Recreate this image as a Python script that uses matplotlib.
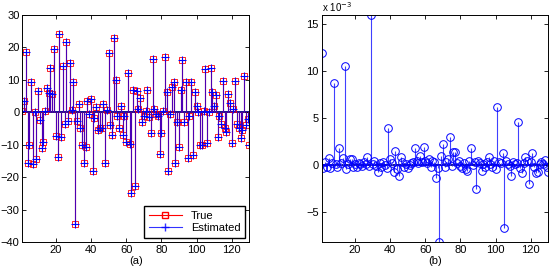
import numpy as np
import matplotlib.pyplot as plt
from matplotlib.lines import Line2D

plt.rcParams['font.family'] = ['Liberation Sans', 'DejaVu Sans']
plt.rcParams['font.size'] = 8

# (a) true signal values
true_vals = [
    0.3, 3.4, 18.6, -15.5, -10, 9.3, -16, 0, -14.5, 6.5,
    -2.5, -11, -9.2, 0.4, 7.5, 6, 13.8, 5.5, 19.5, -7.2,
    -13.7, 24, -7.5, 14.2, -3.5, 21.8, -2.8, 15.3, 0.6, 9.3,
    -34.4, -2.8, 2.7, -4.7, -10, -15.6, -10.8, 3.6, -0.5, 4,
    -18, -1.7, 1.5, -5.5, -4.9, -5, 2.4, -15.5, 0.6, 18.3,
    -3.9, -7, 23, 10, -1.3, -5, 2, -7, -1.2, -9.2,
    12.2, -9.8, -25, 7, -22.7, 6.5, 1, 4.5, -3, -1,
    0.5, 7, -1.5, -6.5, 16.4, 1, -0.5, -1, -13, -6.3,
    0.5, 17, 6.2, -18, -0.5, 7.8, 9.3, -15.6, -3, -10.6,
    7, 16, -3, 9.3, -14.2, -1, 9.4, -13.3, 6.2, 2,
    0, -10, -10, 0.5, 13.2, -9.4, 0, 13.7, 6.4, 2,
    5.3, -7.5, -1, -3.5, 9.5, -5, -6, 5.5, 3, -9.5,
    1, 9.5, -3.5, -5, -8, -5.5, 11.3, -4, -2, -10,
]

# (b) estimation error, in units of 1e-3
err_vals = [
    12, -0.3, 0.3, -0.2, 0.8, -0.3, 0.2, 8.8, 0.1, -0.2,
    1.8, 0.2, 0.8, 10.6, -0.4, 0.1, 0.7, 0.6, -0.2, 0.1,
    -0.2, 0.2, 0.1, -0.1, 0.3, 0.1, 0.9, -0.1, 16, 0.1,
    0.4, -0.1, -0.7, 0.2, -0.2, 0.3, 0.0, -0.3, 4, 0.6,
    0.2, -0.7, 1.5, -0.4, -1.2, 0.9, 0.3, -0.2, 0.1, -0.3,
    0.0, 0.2, 0.3, 1.8, 0.4, 0.2, 1.0, 0.3, 1.9, 0.4,
    0.2, 0.6, -0.2, 0.4, 0.3, -1.4, -0.3, -8.2, 1.0, 2.2,
    -0.2, 0.3, 0.6, 3.0, -0.1, 1.4, 1.4, 0.2, 0.4, -0.1,
    -0.3, 0.2, -0.4, -0.6, 0.4, 1.8, 0.0, 0.3, -2.6, 0.4,
    0.2, -0.6, 0.1, -0.2, 0.3, 0.9, 0.1, -0.2, 0.4, -0.4,
    6.2, 0.3, 0.2, 1.3, -6.7, 0.4, 0.1, -0.1, -1.2, 0.3,
    0.1, 0.2, 4.6, -0.3, -0.8, 0.2, 0.9, 0.4, -2.0, 0.3,
    1.3, -0.2, -0.8, -0.7, 0.1, 0.3, 0.1, 0.5, -0.2, -0.7,
]

n = np.arange(1, len(true_vals) + 1)
est_vals = np.array(true_vals) - np.array(err_vals) * 1e-3

fig = plt.figure(figsize=(5.51, 2.73), dpi=100)
ax1 = fig.add_axes([0.0405, 0.1136, 0.412, 0.8315])
ax2 = fig.add_axes([0.5838, 0.1136, 0.4113, 0.8315])

# --- (a) true vs estimated ---
m1, s1, b1 = ax1.stem(n, true_vals, linefmt='r-', markerfmt='s', basefmt=' ')
plt.setp(m1, color='red', markerfacecolor='none', markersize=5, markeredgewidth=0.6)
plt.setp(s1, linewidth=0.8, color='red')
m2, s2, b2 = ax1.stem(n, est_vals, linefmt='b-', markerfmt='+', basefmt=' ')
plt.setp(m2, color='blue', markersize=5.5, markeredgewidth=0.8)
plt.setp(s2, linewidth=0.8, color='blue', alpha=0.7)
ax1.axhline(0, color='#00008b', lw=1.3, zorder=1)

ax1.set_xlim(1, 130)
ax1.set_ylim(-40, 30)
ax1.set_xticks([20, 40, 60, 80, 100, 120])
ax1.set_yticks(range(-40, 31, 10))
ax1.set_xlabel('(a)', labelpad=1)

handles = [
    Line2D([], [], color='red', marker='s', markerfacecolor='none', markersize=5, lw=0.8),
    Line2D([], [], color='blue', marker='+', markersize=6, lw=0.8, alpha=0.8),
]
ax1.legend(handles, ['True', 'Estimated'], loc='lower right', fontsize=8,
           fancybox=False, edgecolor='black', framealpha=1, borderaxespad=0.4,
           handlelength=3, labelspacing=0.2)

# --- (b) error ---
m3, s3, b3 = ax2.stem(n, err_vals, linefmt='b-', markerfmt='o', basefmt=' ')
plt.setp(m3, color='blue', markerfacecolor='none', markersize=5.5, markeredgewidth=0.7)
plt.setp(s3, linewidth=0.8, color='#4040ff')
ax2.axhline(0, color='#00008b', lw=1.3, zorder=1)

ax2.set_xlim(1, 130)
ax2.set_ylim(-8.2, 16)
ax2.set_xticks([20, 40, 60, 80, 100, 120])
ax2.set_yticks([-5, 0, 5, 10, 15])
ax2.set_xlabel('(b)', labelpad=1)
fig.text(0.584, 0.948, r'x 10$^{-3}$', fontsize=7, va='bottom', ha='left')

for ax in (ax1, ax2):
    ax.tick_params(direction='in', top=True, right=True, length=3, width=0.6, pad=2)
    for sp in ax.spines.values():
        sp.set_linewidth(0.7)

fig.savefig('out.png', dpi=100)
